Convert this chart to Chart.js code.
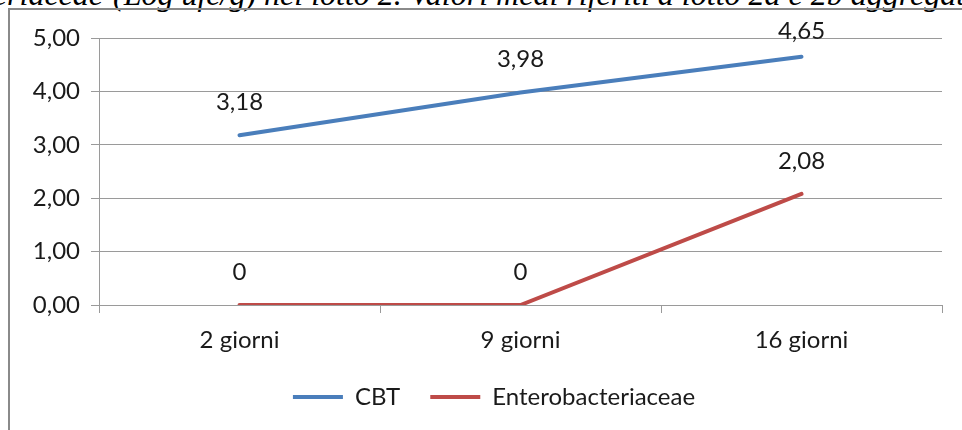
<!DOCTYPE html>
<html>
<head>
<meta charset="utf-8">
<script src="https://cdn.jsdelivr.net/npm/chart.js@4/dist/chart.umd.min.js"></script>
<style>
  html, body { margin: 0; padding: 0; background: #fff; }
  #page { position: relative; width: 962px; height: 430px; overflow: hidden; background: #fff; }
  .caption { position: absolute; top: -22px; font-family: "Liberation Serif", "Times New Roman", serif;
             font-style: italic; font-size: 32px; line-height: 32px; color: #000; white-space: nowrap; }
  #capA { right: calc(962px - 103px); }
  #capB { left: 113px; }
  #frame { position: absolute; left: 8px; top: 8px; width: 1100px; height: 600px;
           border: 2px solid #8a8a8a; box-sizing: border-box; }
  #chart { position: absolute; left: 0; top: 0; }
</style>
</head>
<body>
<div id="page">
  <div class="caption" id="capA">Enterobacteriaceae</div>
  <div class="caption" id="capB">(Log ufc/g) nel lotto 2. Valori medi riferiti a lotto 2a e 2b aggregati</div>
  <div id="frame"></div>
  <canvas id="chart" width="962" height="430"></canvas>
</div>
<script>
// Storage days and mean counts (Log ufc/g)
const categories = ["2 giorni", "9 giorni", "16 giorni"];
const cbtValues = [3.18, 3.98, 4.65];
const enteroValues = [0, 0, 2.08];
const seriesNames = ["CBT", "Enterobacteriaceae"];
const yTicks = [0, 1, 2, 3, 4, 5];

const FONT = "Lato";
const FONT_SIZE = 24;
const TEXT_COLOR = "#1a1a1a";
const GRID_COLOR = "#9a9a9a";

const fmt = v => v.toFixed(2).replace(".", ",");
const fmtLabel = v => (v === 0 ? "0" : fmt(v));

// Value labels above every point, kept inside the top of the plot frame
const valueLabels = {
  id: "valueLabels",
  afterDatasetsDraw(chart) {
    const ctx = chart.ctx;
    const area = chart.chartArea;
    ctx.save();
    ctx.font = `${FONT_SIZE}px ${FONT}`;
    ctx.fillStyle = TEXT_COLOR;
    ctx.textAlign = "center";
    ctx.textBaseline = "middle";
    chart.data.datasets.forEach((ds, i) => {
      const meta = chart.getDatasetMeta(i);
      meta.data.forEach((pt, j) => {
        const y = Math.max(pt.y - 33, area.top - 7);
        ctx.fillText(fmtLabel(ds.data[j]), pt.x, y);
      });
    });
    ctx.restore();
  }
};

// Legend sits centred under the plot area rather than the whole canvas
const legendOffset = {
  id: "legendOffset",
  afterLayout(chart) {
    const lg = chart.legend;
    if (lg) { lg.left += 13; lg.right += 13; }
  }
};

new Chart(document.getElementById("chart"), {
  type: "line",
  data: {
    labels: categories,
    datasets: [
      { label: seriesNames[0], data: cbtValues, borderColor: "#4a7ebb", backgroundColor: "#4a7ebb",
        borderWidth: 4, pointRadius: 0, borderCapStyle: "round", tension: 0 },
      { label: seriesNames[1], data: enteroValues, borderColor: "#be4b48", backgroundColor: "#be4b48",
        borderWidth: 4, pointRadius: 0, borderCapStyle: "round", tension: 0 }
    ]
  },
  options: {
    responsive: false,
    animation: false,
    devicePixelRatio: 1,
    layout: { padding: { left: 20, right: 20, top: 38, bottom: 11 } },
    plugins: {
      tooltip: { enabled: false },
      legend: {
        position: "bottom",
        labels: {
          usePointStyle: true,
          pointStyle: "line",
          pointStyleWidth: 50,
          padding: 30,
          color: TEXT_COLOR,
          font: { family: FONT, size: FONT_SIZE }
        }
      }
    },
    scales: {
      x: {
        offset: true,
        grid: { offset: true, drawOnChartArea: false, drawTicks: true, tickLength: 8, color: GRID_COLOR },
        border: { display: true, color: GRID_COLOR, width: 1 },
        ticks: { color: TEXT_COLOR, font: { family: FONT, size: FONT_SIZE }, padding: 13, maxRotation: 0 },
        afterFit(scale) { scale.height = 50; }
      },
      y: {
        min: 0,
        max: 5,
        afterBuildTicks(scale) { scale.ticks = yTicks.map(v => ({ value: v })); },
        grid: { color: GRID_COLOR, tickLength: 8, drawTicks: true },
        border: { display: true, color: GRID_COLOR, width: 1 },
        ticks: { color: TEXT_COLOR, font: { family: FONT, size: FONT_SIZE }, padding: 11, callback: v => fmt(v) },
        afterFit(scale) { scale.width = 79; }
      }
    }
  },
  plugins: [valueLabels, legendOffset]
});
</script>
</body>
</html>
